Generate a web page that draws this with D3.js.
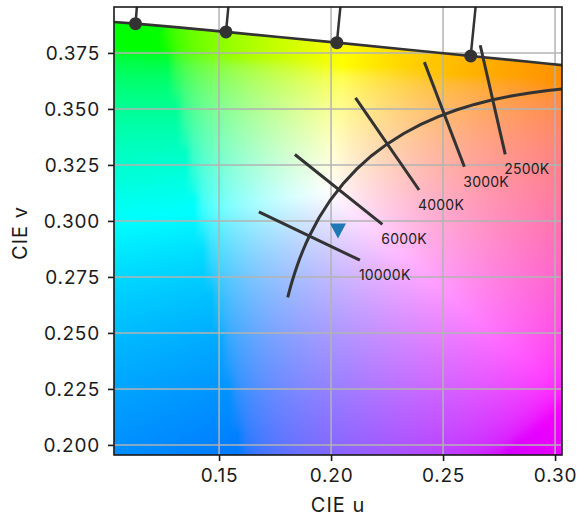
<!DOCTYPE html>
<html>
<head>
<meta charset="utf-8">
<script src="https://cdn.jsdelivr.net/npm/d3@7"></script>
<style>
  body { margin: 0; background: #fff; }
  text { font-family: Inter, "DejaVu Sans", sans-serif; }
</style>
</head>
<body>
<svg id="chart" width="585" height="521"></svg>
<script>
// CIE 1931 2° spectral locus chromaticities (x, y) across the displayed range
const locusWavelengths = [540, 545, 550, 555, 560, 565, 570, 575, 580, 585, 590, 595];
const locusX = [0.2296, 0.2658, 0.3016, 0.3373, 0.3731, 0.4087, 0.4441, 0.4788, 0.5125, 0.5448, 0.5752, 0.6029];
const locusY = [0.7543, 0.7243, 0.6923, 0.6589, 0.6245, 0.5896, 0.5547, 0.5202, 0.4866, 0.4544, 0.4242, 0.3965];
const wavelengthMarks = [550, 560, 570, 580, 590];

// Robertson (1968) isotemperature table: reciprocal megakelvin, u, v, slope t
const robMired = [0, 10, 20, 30, 40, 50, 60, 70, 80, 90, 100, 125, 150, 175, 200, 225, 250, 275, 300, 325, 350, 375, 400, 425, 450, 475, 500, 525, 550, 575, 600];
const robU = [0.18006, 0.18066, 0.18133, 0.18208, 0.18293, 0.18388, 0.18494, 0.18611, 0.18740, 0.18880, 0.19032, 0.19462, 0.19962, 0.20525, 0.21142, 0.21807, 0.22511, 0.23247, 0.24010, 0.24792, 0.25591, 0.26400, 0.27218, 0.28039, 0.28863, 0.29685, 0.30505, 0.31320, 0.32129, 0.32931, 0.33724];
const robV = [0.26352, 0.26589, 0.26846, 0.27119, 0.27407, 0.27709, 0.28021, 0.28342, 0.28668, 0.28997, 0.29326, 0.30141, 0.30921, 0.31647, 0.32312, 0.32909, 0.33439, 0.33904, 0.34308, 0.34655, 0.34951, 0.35200, 0.35407, 0.35577, 0.35714, 0.35823, 0.35907, 0.35968, 0.36011, 0.36038, 0.36051];
const robT = [-0.24341, -0.25479, -0.26876, -0.28539, -0.30470, -0.32675, -0.35156, -0.37915, -0.40955, -0.44278, -0.47888, -0.58204, -0.70471, -0.84901, -1.0182, -1.2168, -1.4512, -1.7298, -2.0637, -2.4681, -2.9641, -3.5814, -4.3633, -5.3762, -6.7262, -8.5955, -11.324, -15.628, -23.325, -40.770, -116.45];

// Isotemperature lines drawn across the Planckian locus
const isothermCCT = [10000, 6000, 4000, 3000, 2500];
const isothermDuv = 0.025;

// Plotted chromaticity sample
const sampleU = [0.2031];
const sampleV = [0.2955];

// Axes
const uTicks = [0.15, 0.20, 0.25, 0.30];
const vTicks = [0.200, 0.225, 0.250, 0.275, 0.300, 0.325, 0.350, 0.375];
const uDomain = [0.1031, 0.3031];
const vDomain = [0.1955, 0.3955];

const margin = { left: 114, top: 7, right: 23, bottom: 66 };
const W = 585, H = 521;
const pw = W - margin.left - margin.right;   // 448
const ph = H - margin.top - margin.bottom;   // 448

const x = d3.scaleLinear().domain(uDomain).range([margin.left, margin.left + pw]);
const y = d3.scaleLinear().domain(vDomain).range([margin.top + ph, margin.top]);

const svg = d3.select("#chart");
const ink = "#333333";

// xy -> CIE 1960 UCS uv
function xyToUv(xx, yy) {
  const d = -2 * xx + 12 * yy + 3;
  return [4 * xx / d, 6 * yy / d];
}
const locusUV = locusX.map((xx, i) => xyToUv(xx, locusY[i]));

// Chromaticity colour for a uv coordinate: XYZ (Y=1) -> sRGB, encoded, max-normalised
const M = [[3.2404542, -1.5371385, -0.4985314],
           [-0.9692660, 1.8760108, 0.0415560],
           [0.0556434, -0.2040259, 1.0572252]];
function encode(L) { return L <= 0.0031308 ? 12.92 * L : 1.055 * Math.pow(L, 1 / 2.4) - 0.055; }
function uvColour(u, v) {
  const d = 2 * u - 8 * v + 4;
  const cx = 3 * u / d, cy = 2 * v / d;
  const X = cx / cy, Y = 1, Z = (1 - cx - cy) / cy;
  const rgb = M.map(r => encode(r[0] * X + r[1] * Y + r[2] * Z));
  const m = Math.max(rgb[0], rgb[1], rgb[2]);
  return rgb.map(c => Math.min(1, Math.max(0, c / m)));
}

// Colour field sampled on a 256x256 grid over [0,1]² and shown with bilinear smoothing
const N = 256;
const cache = new Map();
function node(i, r) {
  const key = i * 1000 + r;
  let c = cache.get(key);
  if (!c) { c = uvColour(i / (N - 1), 1 - r / (N - 1)); cache.set(key, c); }
  return c;
}
const canvas = document.createElement("canvas");
canvas.width = pw; canvas.height = ph;
const ctx = canvas.getContext("2d");
const img = ctx.createImageData(pw, ph);
for (let py = 0; py < ph; py++) {
  const v = y.invert(margin.top + py + 0.5);
  const rr = (1 - v) * N - 0.5;
  const r0 = Math.floor(rr), fr = rr - r0;
  for (let px = 0; px < pw; px++) {
    const u = x.invert(margin.left + px + 0.5);
    const cc = u * N - 0.5;
    const c0 = Math.floor(cc), fc = cc - c0;
    const a = node(c0, r0), b = node(c0 + 1, r0), c = node(c0, r0 + 1), d = node(c0 + 1, r0 + 1);
    const k = (py * pw + px) * 4;
    for (let ch = 0; ch < 3; ch++) {
      const top = a[ch] * (1 - fc) + b[ch] * fc;
      const bot = c[ch] * (1 - fc) + d[ch] * fc;
      img.data[k + ch] = Math.round(255 * (top * (1 - fr) + bot * fr));
    }
    img.data[k + 3] = 255;
  }
}
ctx.putImageData(img, 0, 0);

const defs = svg.append("defs");
defs.append("clipPath").attr("id", "plotClip")
  .append("rect").attr("x", margin.left).attr("y", margin.top).attr("width", pw).attr("height", ph);

// Region under the spectral locus
const locusPx = locusUV.map(p => [x(p[0]), y(p[1])]);
const clipPoly = locusPx.concat([[locusPx[locusPx.length - 1][0], y(vDomain[0]) + 20], [locusPx[0][0], y(vDomain[0]) + 20]]);
defs.append("clipPath").attr("id", "locusClip")
  .append("path").attr("d", d3.line()(clipPoly) + "Z");

const plot = svg.append("g").attr("clip-path", "url(#plotClip)");

plot.append("image")
  .attr("href", canvas.toDataURL())
  .attr("x", margin.left).attr("y", margin.top)
  .attr("width", pw).attr("height", ph)
  .attr("clip-path", "url(#locusClip)");

// Grid
const grid = plot.append("g").attr("stroke", "#b3b3b3").attr("stroke-width", 1.5);
grid.selectAll(".gx").data(uTicks).join("line")
  .attr("x1", d => x(d)).attr("x2", d => x(d))
  .attr("y1", margin.top).attr("y2", margin.top + ph);
grid.selectAll(".gy").data(vTicks).join("line")
  .attr("y1", d => y(d)).attr("y2", d => y(d))
  .attr("x1", margin.left).attr("x2", margin.left + pw);

// Spectral locus
plot.append("path")
  .attr("d", d3.line().x(p => x(p[0])).y(p => y(p[1])).curve(d3.curveCatmullRom)(locusUV))
  .attr("fill", "none").attr("stroke", ink).attr("stroke-width", 2.7);

// Wavelength ticks with markers, pointing outward from the locus
wavelengthMarks.forEach(wl => {
  const i = locusWavelengths.indexOf(wl);
  const p = locusUV[i];
  const a = locusUV[Math.max(0, i - 1)], b = locusUV[Math.min(locusUV.length - 1, i + 1)];
  let nx = -(b[1] - a[1]), ny = b[0] - a[0];
  const len = Math.hypot(nx, ny);
  nx /= len; ny /= len;
  if (ny < 0) { nx = -nx; ny = -ny; }
  const L = 0.75 / 30;
  plot.append("line")
    .attr("x1", x(p[0])).attr("y1", y(p[1]))
    .attr("x2", x(p[0] + nx * L)).attr("y2", y(p[1] + ny * L))
    .attr("stroke", ink).attr("stroke-width", 2.5);
  plot.append("circle")
    .attr("cx", x(p[0])).attr("cy", y(p[1])).attr("r", 6.5).attr("fill", ink);
});

// Planckian locus (Robertson interpolation is linear between table rows)
const planck = robMired.map((r, i) => [robU[i], robV[i]]).filter((p, i) => robMired[i] >= 10);
plot.append("path")
  .attr("d", d3.line().x(p => x(p[0])).y(p => y(p[1]))(planck))
  .attr("fill", "none").attr("stroke", ink).attr("stroke-width", 3);

function cctToUv(T, duv) {
  const r = 1e6 / T;
  for (let i = 0; i < 30; i++) {
    if (r < robMired[i + 1] || i === 29) {
      const f = (robMired[i + 1] - r) / (robMired[i + 1] - robMired[i]);
      const u = robU[i] * f + robU[i + 1] * (1 - f);
      const v = robV[i] * f + robV[i + 1] * (1 - f);
      const l1 = Math.hypot(1, robT[i]), l2 = Math.hypot(1, robT[i + 1]);
      let uu = (1 / l1) * f + (1 / l2) * (1 - f);
      let vv = (robT[i] / l1) * f + (robT[i + 1] / l2) * (1 - f);
      const l3 = Math.hypot(uu, vv);
      uu /= l3; vv /= l3;
      return [u + uu * duv, v + vv * duv];
    }
  }
}

const labels = svg.append("g");
isothermCCT.forEach(T => {
  const a = cctToUv(T, -isothermDuv), b = cctToUv(T, isothermDuv);
  plot.append("line")
    .attr("x1", x(a[0])).attr("y1", y(a[1]))
    .attr("x2", x(b[0])).attr("y2", y(b[1]))
    .attr("stroke", ink).attr("stroke-width", 3);
  labels.append("text")
    .attr("x", x(b[0]) - 1).attr("y", y(b[1]) + 20)
    .attr("font-size", 14).attr("fill", "#222").attr("letter-spacing", 0.2)
    .text(T + "K");
});

// Sample marker
plot.selectAll(".sample").data(sampleU).join("path")
  .attr("d", "M-8,-7.5L8,-7.5L0,7.5Z")
  .attr("transform", (d, i) => `translate(${x(d)},${y(sampleV[i])})`)
  .attr("fill", "#1f77b4");

// Frame
svg.append("rect")
  .attr("x", margin.left).attr("y", margin.top).attr("width", pw).attr("height", ph)
  .attr("fill", "none").attr("stroke", "#1a1a1a").attr("stroke-width", 1.6);

// Axes
const xAxis = svg.append("g").attr("transform", `translate(0,${margin.top + ph})`)
  .call(d3.axisBottom(x).tickValues(uTicks).tickFormat(d3.format(".2f")).tickSize(6).tickPadding(8));
const yAxis = svg.append("g").attr("transform", `translate(${margin.left},0)`)
  .call(d3.axisLeft(y).tickValues(vTicks).tickFormat(d3.format(".3f")).tickSize(6).tickPadding(8));
[xAxis, yAxis].forEach(g => {
  g.select(".domain").remove();
  g.selectAll(".tick line").attr("stroke", "#1a1a1a").attr("stroke-width", 1.6);
  g.selectAll(".tick text").attr("font-size", 19).attr("fill", "#1a1a1a")
    .attr("letter-spacing", 0.8)
    .attr("font-family", "Inter, 'DejaVu Sans', sans-serif");
});

svg.append("text")
  .attr("x", margin.left + pw / 2).attr("y", 512)
  .attr("text-anchor", "middle").attr("font-size", 20).attr("fill", "#1a1a1a")
  .attr("letter-spacing", 1)
  .text("CIE u");
svg.append("text")
  .attr("transform", `translate(27,${margin.top + ph / 2 + 2}) rotate(-90)`)
  .attr("text-anchor", "middle").attr("font-size", 20).attr("fill", "#1a1a1a")
  .attr("letter-spacing", 1)
  .text("CIE v");
</script>
</body>
</html>
